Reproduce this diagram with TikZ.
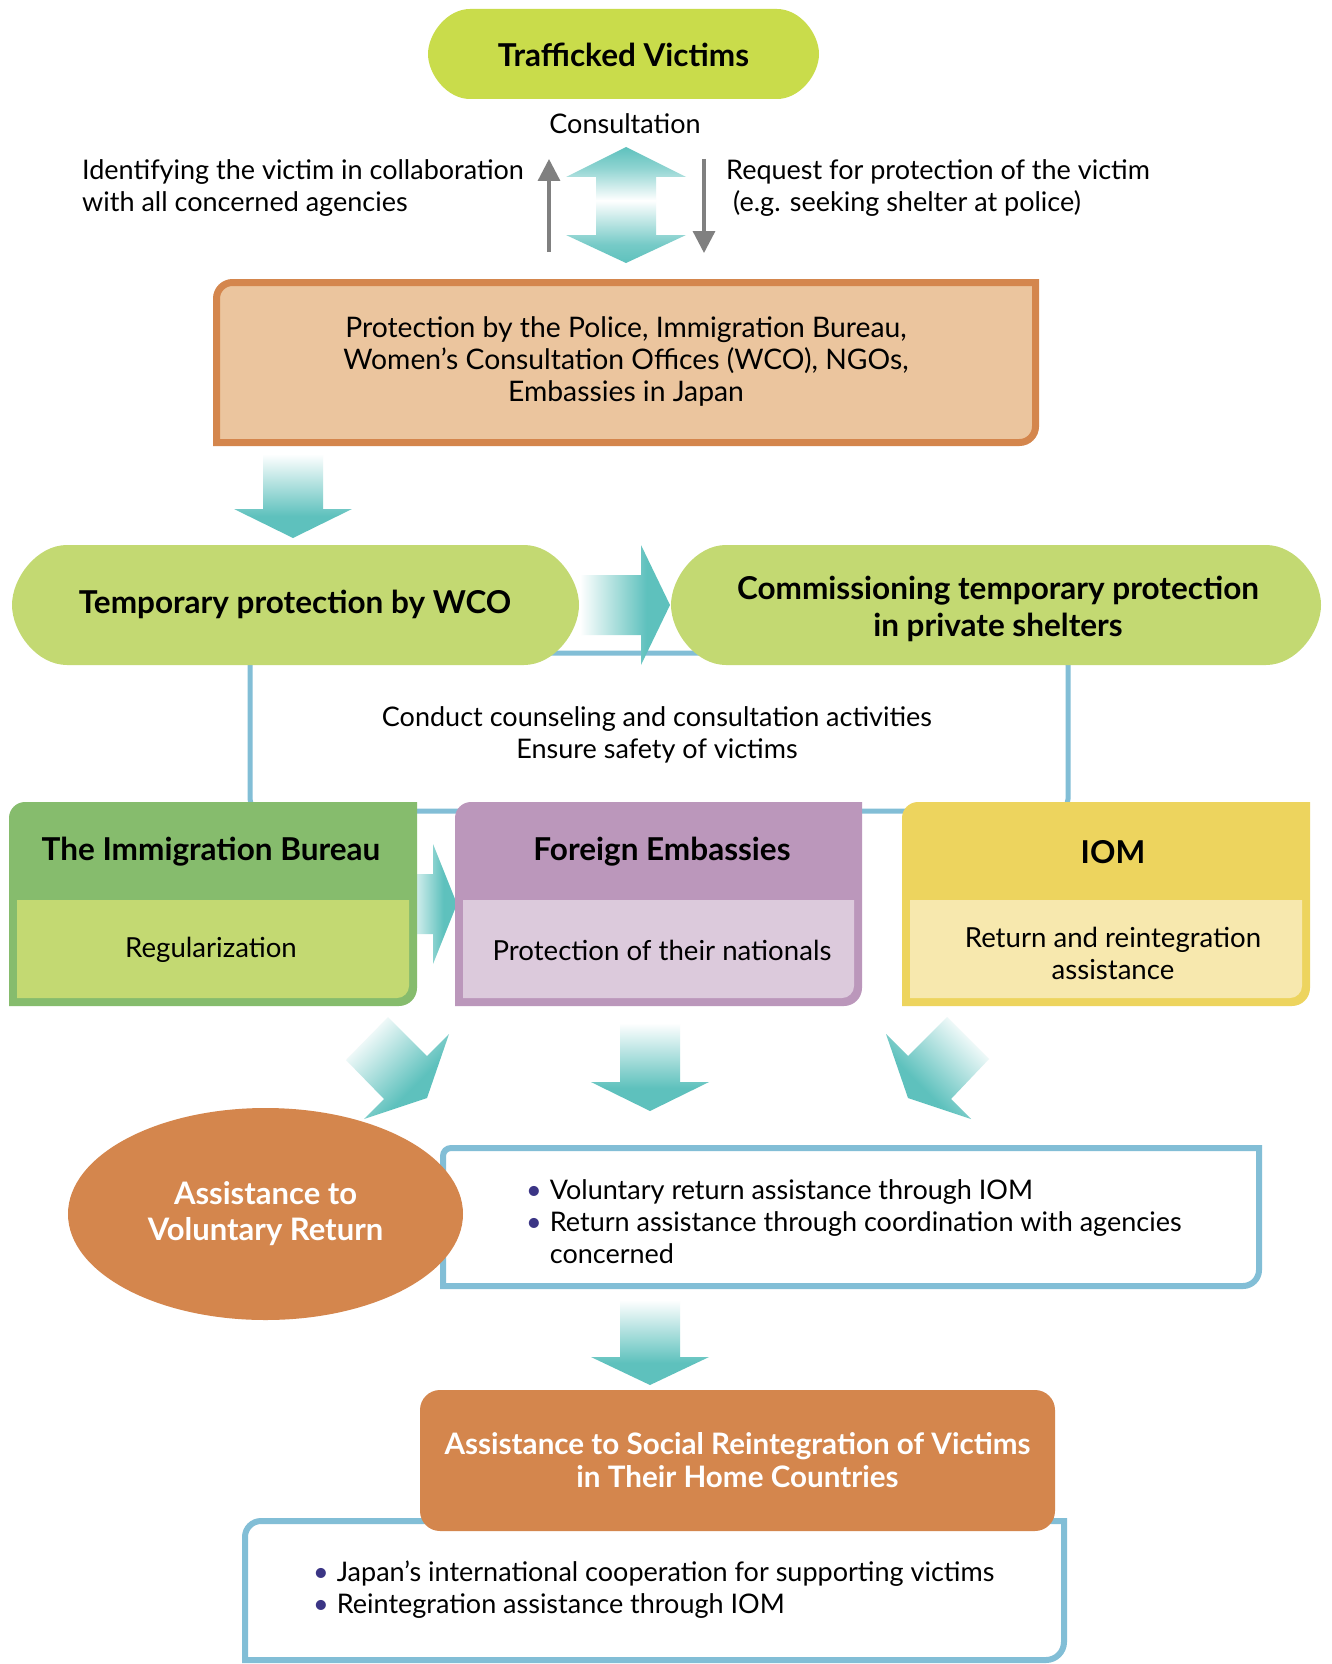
\documentclass[tikz,border=0pt]{standalone}
\usepackage{fontspec}
\setmainfont{Lato}
\usetikzlibrary{arrows.meta,shapes.geometric}
\definecolor{tealA}{HTML}{5EC1BD}
\colorlet{tealB}{tealA!85!white}
\colorlet{tealC}{tealA!70!white}
\definecolor{limeA}{HTML}{C9DC4B}
\definecolor{limeB}{HTML}{C3D972}
\definecolor{peachA}{HTML}{EBC59E}
\definecolor{orangeA}{HTML}{D4864D}
\definecolor{blueA}{HTML}{82BED6}
\definecolor{greenA}{HTML}{86BC6D}
\definecolor{purpleA}{HTML}{BB97BB}
\definecolor{purpleB}{HTML}{DCCADC}
\definecolor{yellowA}{HTML}{EDD45E}
\definecolor{yellowB}{HTML}{F7E8AE}
\definecolor{bulletA}{HTML}{3B3585}
\definecolor{grayA}{HTML}{808080}

\pgfdeclareverticalshading{fadeshade}{100bp}{color(0bp)=(tealA); color(25bp)=(tealA); color(38bp)=(tealA); color(75bp)=(white); color(100bp)=(white)}
\pgfdeclareverticalshading{dblshade}{100bp}{color(0bp)=(tealA); color(25bp)=(tealA); color(33bp)=(tealB); color(52bp)=(white); color(66bp)=(tealC); color(75bp)=(tealA); color(100bp)=(tealA)}

\newcommand{\fbodyt}{\fontsize{27}{32}\selectfont}
\newcommand{\fprott}{\fontsize{28.3}{32}\selectfont}
\newcommand{\fboxbt}{\fontsize{27.6}{32}\selectfont}
\newcommand{\fheadt}{\fontsize{31.5}{37}\selectfont\bfseries}
\newcommand{\fovalt}{\fontsize{31}{36}\selectfont\bfseries}
\newcommand{\fsoct}{\fontsize{29.6}{33}\selectfont\bfseries}
\newcommand{\blt}{\textcolor{bulletA}{\textbullet}\hspace{8pt}}

% box with four corner radii: style, x1,y1,x2,y2, rtl, rtr, rbr, rbl
\newcommand{\cbox}[9]{%
 \path[#1] ({#2},{#3+#6}) .. controls ({#2},{#3+0.45*#6}) and ({#2+0.45*#6},{#3}) .. ({#2+#6},{#3})
   -- ({#4-#7},{#3}) .. controls ({#4-0.45*#7},{#3}) and ({#4},{#3+0.45*#7}) .. ({#4},{#3+#7})
   -- ({#4},{#5-#8}) .. controls ({#4},{#5-0.45*#8}) and ({#4-0.45*#8},{#5}) .. ({#4-#8},{#5})
   -- ({#2+#9},{#5}) .. controls ({#2+0.45*#9},{#5}) and ({#2},{#5-0.45*#9}) .. ({#2},{#5-#9})
   -- cycle;}
% pill with elliptic ends: style, x1,y1,x2,y2, rx
\newcommand{\pill}[6]{%
 \path[#1] ({#2+#6},{#3}) -- ({#4-#6},{#3})
   .. controls ({#4-0.45*#6},{#3}) and ({#4},{#3+0.276*(#5-#3)}) .. ({#4},{(#3+#5)/2})
   .. controls ({#4},{#5-0.276*(#5-#3)}) and ({#4-0.45*#6},{#5}) .. ({#4-#6},{#5})
   -- ({#2+#6},{#5})
   .. controls ({#2+0.45*#6},{#5}) and ({#2},{#5-0.276*(#5-#3)}) .. ({#2},{(#3+#5)/2})
   .. controls ({#2},{#3+0.276*(#5-#3)}) and ({#2+0.45*#6},{#3}) .. ({#2+#6},{#3})
   -- cycle;}
% thick down arrow: cx, top, base, tip
\newcommand{\downarr}[4]{%
 \shade[shading=fadeshade] ({#1-30},{#2}) -- ({#1+30},{#2}) -- ({#1+30},{#3}) -- ({#1+59},{#3})
   -- ({#1},{#4}) -- ({#1-59},{#3}) -- ({#1-30},{#3}) -- cycle;}

\begin{document}
\begin{tikzpicture}[x=1pt,y=-1pt,
  txt/.style={inner sep=0pt, align=center, font=\fbodyt, text=black},
  ttl/.style={inner sep=0pt, align=center, font=\fheadt, text=black},
  bbody/.style={inner sep=0pt, align=center, font=\fboxbt, text=black},
  grayarrow/.style={draw=grayA, line width=3.3pt, -{Triangle[length=22pt,width=22pt]}}]
\useasboundingbox (0,0) rectangle (1331,1664);
\fill[white] (0,0) rectangle (1331,1664);

% blue frame behind the middle part
\cbox{draw=blueA, line width=5pt}{250}{653}{1068}{811}{12}{12}{12}{12}

% thick arrows
\shade[shading=dblshade] (626,147) -- (686,177) -- (656,177) -- (656,235) -- (686,235) -- (626,263)
  -- (566,235) -- (596,235) -- (596,177) -- (566,177) -- cycle;
\downarr{293}{454}{509}{538}
\shade[shading=fadeshade, shading angle=90] (580,575) -- (641,575) -- (641,545) -- (670,605)
  -- (641,665) -- (641,635) -- (580,635) -- cycle;
\shade[shading=fadeshade, shading angle=90] (405,874) -- (433,874) -- (433,844) -- (457,904)
  -- (433,964) -- (433,934) -- (405,934) -- cycle;
\shade[shading=fadeshade, shading angle=45] (388,1017) -- (427,1056) -- (449,1034) -- (427,1098)
  -- (364,1119) -- (384,1099) -- (346,1060) -- cycle;
\downarr{650}{1023}{1082}{1111}
\shade[shading=fadeshade, shading angle=-45] (947,1017) -- (989,1059) -- (951,1099) -- (971,1119)
  -- (908,1098) -- (886,1034) -- (908,1056) -- cycle;
\downarr{650}{1300}{1357}{1385}

% shapes
\pill{fill=limeA}{428}{9}{819}{99}{42}
\cbox{draw=orangeA, line width=7pt, fill=peachA}{216.5}{282.5}{1035.5}{442.5}{16}{0}{16}{0}
\pill{fill=limeB}{12}{545}{579}{665}{55}
\pill{fill=limeB}{671}{545}{1321}{665}{55}

\cbox{fill=greenA}{9}{802}{417}{1006}{16}{0}{18}{0}
\cbox{fill=limeB}{17}{900}{409}{998}{0}{0}{12}{0}
\cbox{fill=purpleA}{455}{802}{862}{1006}{16}{0}{18}{0}
\cbox{fill=purpleB}{463}{900}{854}{998}{0}{0}{12}{0}
\cbox{fill=yellowA}{902}{802}{1310}{1006}{16}{0}{18}{0}
\cbox{fill=yellowB}{910}{900}{1302}{998}{0}{0}{12}{0}

\cbox{draw=blueA, line width=6pt, fill=white}{443}{1148}{1259}{1286}{8}{0}{16}{0}
\cbox{draw=blueA, line width=6pt, fill=white}{245}{1521}{1064}{1660}{16}{0}{18}{0}

% gray connectors
\coordinate (upA) at (549,252);
\coordinate (upB) at (549,159);
\coordinate (dnA) at (704,159);
\coordinate (dnB) at (704,253);
\draw[grayarrow] (upA) -- (upB);
\draw[grayarrow] (dnA) -- (dnB);

% texts
\node[ttl] (victims) at (623.5,55) {Trafficked Victims};
\node[txt] (consult) at (625,124) {Consultation};
\node[txt, anchor=west, align=left] (idnote) at (82,188) {Identifying the victim in collaboration\\with all concerned agencies};
\node[txt, anchor=west, align=left] (reqnote) at (726,188) {Request for protection of the victim\\\hspace*{7pt}(e.g. seeking shelter at police)};
\node[txt, font=\fprott] (prot) at (626,362) {Protection by the Police, Immigration Bureau,\\Women’s Consultation Offices (WCO), NGOs,\\Embassies in Japan};
\node[ttl] (wco) at (295,604) {Temporary protection by WCO};
\node[ttl] (comm) at (998,609) {Commissioning temporary protection\\in private shelters};
\node[txt] (counsel) at (657,735) {Conduct counseling and consultation activities\\Ensure safety of victims};

\node[ttl] (imm) at (211,852) {The Immigration Bureau};
\node[bbody] (immb) at (211,950) {Regularization};
\node[ttl] (emb) at (662,852) {Foreign Embassies};
\node[bbody] (embb) at (662,950) {Protection of their nationals};
\node[ttl] (iom) at (1113,852) {IOM};
\node[bbody] (iomb) at (1113,953) {Return and reintegration\\assistance};

\node[ellipse, fill=orangeA, minimum width=395pt, minimum height=212pt, inner sep=0pt,
  text=white, font=\fovalt, align=center] (volret) at (265.5,1214) {Assistance to\\Voluntary Return};
\node[txt, anchor=west, align=left] (vollist) at (526,1222) {\blt Voluntary return assistance through IOM\\\blt Return assistance through coordination with agencies\\\hphantom{\blt}concerned};

\node[rectangle, rounded corners=20pt, fill=orangeA, minimum width=635pt, minimum height=141pt,
  inner sep=0pt, text=white, font=\fsoct, align=center] (social) at (737.5,1460.5)
  {Assistance to Social Reintegration of Victims\\in Their Home Countries};
\node[txt, anchor=west, align=left] (homelist) at (313,1590) {\blt Japan’s international cooperation for supporting victims\\\blt Reintegration assistance through IOM};
\end{tikzpicture}
\end{document}
